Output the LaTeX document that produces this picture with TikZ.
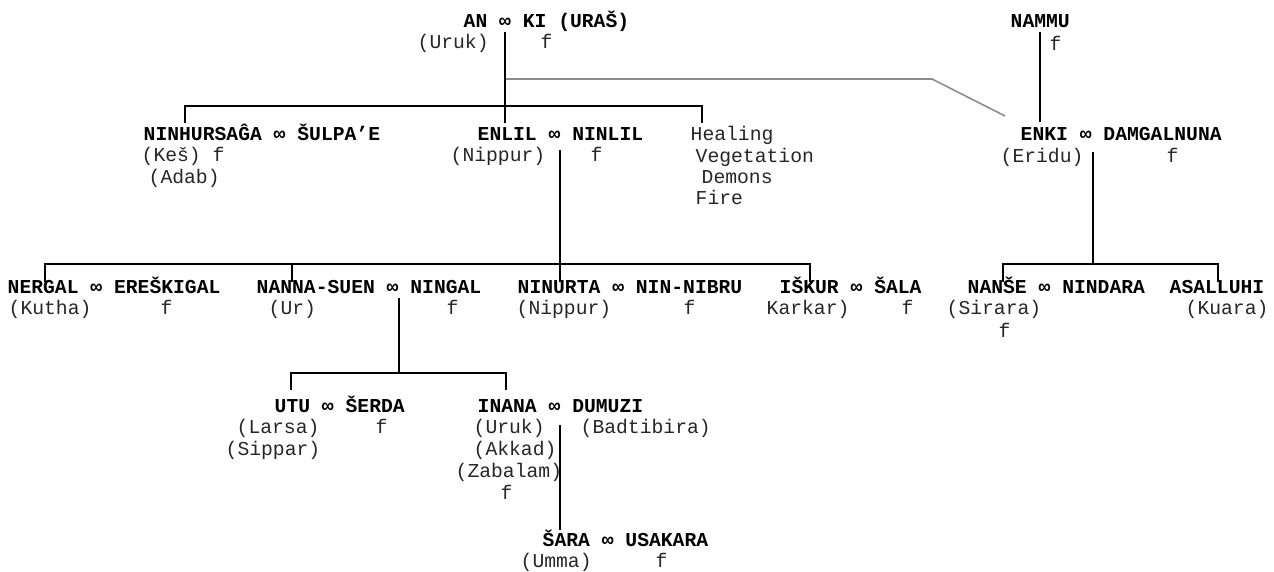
\documentclass[tikz,border=0pt]{standalone}
\usepackage{fontspec}
\setmainfont{Liberation Mono}
\begin{document}
\begin{tikzpicture}[x=1pt,y=-1pt,
  god/.style={font=\fontsize{19.7}{22}\selectfont\bfseries, anchor=base west, inner sep=0pt},
  note/.style={font=\fontsize{19.7}{22}\selectfont, anchor=base west, inner sep=0pt, text=black!85},
  kin/.style={draw=black!45, line width=1.6pt},
  line width=1.4pt]
\useasboundingbox (0,0) rectangle (1274,571);
% first row
\node[god] (an) at (463,27) {AN ∞ KI (URAŠ)};
\node[note] (an-city) at (417,48) {(Uruk)};
\node[note] (ki-f) at (540,48) {f};
\node[god] (nammu) at (1010,27) {NAMMU};
\node[note] (nammu-f) at (1049,50) {f};
% second row
\node[god] (ninh) at (143,140) {NINHURSAĜA ∞ ŠULPA'E};
\node[note] (ninh-city) at (141,161) {(Keš) f};
\node[note] (ninh-city2) at (148,183) {(Adab)};
\node[god] (enlil) at (477,140) {ENLIL ∞ NINLIL};
\node[note] (enlil-city) at (450,161) {(Nippur)};
\node[note] (ninlil-f) at (590,161) {f};
\node[note] (heal) at (690,140) {Healing};
\node[note] (veg) at (695,162) {Vegetation};
\node[note] (dem) at (701,183) {Demons};
\node[note] (fire) at (695,204) {Fire};
\node[god] (enki) at (1020,140) {ENKI ∞ DAMGALNUNA};
\node[note] (enki-city) at (1000,162) {(Eridu)};
\node[note] (damgal-f) at (1166,162) {f};
% third row
\node[god] (nergal) at (7,293) {NERGAL ∞ EREŠKIGAL};
\node[note] (nergal-city) at (8,314) {(Kutha)};
\node[note] (eresk-f) at (160,314) {f};
\node[god] (nanna) at (256,293) {NANNA-SUEN ∞ NINGAL};
\node[note] (nanna-city) at (268,314) {(Ur)};
\node[note] (ningal-f) at (446,314) {f};
\node[god] (ninurta) at (517,293) {NINURTA ∞ NIN-NIBRU};
\node[note] (ninurta-city) at (516,314) {(Nippur)};
\node[note] (nibru-f) at (683,314) {f};
\node[god] (iskur) at (779,293) {IŠKUR ∞ ŠALA};
\node[note] (iskur-city) at (766,314) {Karkar)};
\node[note] (sala-f) at (901,314) {f};
\node[god] (nanse) at (967,293) {NANŠE ∞ NINDARA};
\node[note] (nanse-city) at (946,314) {(Sirara)};
\node[note] (nanse-f) at (998,337) {f};
\node[god] (asal) at (1169,293) {ASALLUHI};
\node[note] (asal-city) at (1185,314) {(Kuara)};
% fourth row
\node[god] (utu) at (274,412) {UTU ∞ ŠERDA};
\node[note] (utu-city) at (236,433) {(Larsa)};
\node[note] (serda-f) at (375,433) {f};
\node[note] (utu-city2) at (225,455) {(Sippar)};
\node[god] (inana) at (477,412) {INANA ∞ DUMUZI};
\node[note] (inana-city) at (473,433) {(Uruk)};
\node[note] (dumuzi-city) at (580,433) {(Badtibira)};
\node[note] (inana-city2) at (473,455) {(Akkad)};
\node[note] (inana-city3) at (455,477) {(Zabalam)};
\node[note] (inana-f) at (500,499) {f};
\node[god] (sara) at (542,546) {ŠARA ∞ USAKARA};
\node[note] (sara-city) at (520,567) {(Umma)};
\node[note] (usakara-f) at (655,567) {f};
% junctions
\coordinate (an-down) at (505,32);
\coordinate (an-link) at (505,79);
\coordinate (bend) at (932,79);
\coordinate (enki-link) at (1005,116);
\coordinate (bar1) at (505,106);
\coordinate (ninh-top) at (185,123);
\coordinate (enlil-top) at (505,123);
\coordinate (heal-top) at (702,123);
\coordinate (nammu-down) at (1040,32);
\coordinate (enki-top) at (1040,122);
\coordinate (enlil-down) at (560,150);
\coordinate (bar2) at (560,264);
\coordinate (nergal-top) at (45,282);
\coordinate (nanna-top) at (292,282);
\coordinate (ninurta-top) at (560,282);
\coordinate (iskur-top) at (810,282);
\coordinate (enki-down) at (1093,152);
\coordinate (enki-bar) at (1093,264);
\coordinate (nanse-top) at (1003,282);
\coordinate (asal-top) at (1218,282);
\coordinate (nanna-down) at (399,298);
\coordinate (bar3) at (399,373);
\coordinate (utu-top) at (291,390);
\coordinate (inana-top) at (506,390);
\coordinate (inana-down) at (560,425);
\coordinate (sara-top) at (560,530);
% lines
\draw[kin] (an-link) -- (bend) -- (enki-link);
\draw (an-down) -- (enlil-top);
\draw (ninh-top) |- (bar1) -| (heal-top);
\draw (nammu-down) -- (enki-top);
\draw (enlil-down) -- (ninurta-top);
\draw (nergal-top) |- (bar2) -| (iskur-top);
\draw (nanna-top) -- (nanna-top |- bar2);
\draw (enki-down) -- (enki-bar);
\draw (nanse-top) |- (enki-bar) -| (asal-top);
\draw (nanna-down) -- (bar3);
\draw (utu-top) |- (bar3) -| (inana-top);
\draw (inana-down) -- (sara-top);
\end{tikzpicture}
\end{document}
